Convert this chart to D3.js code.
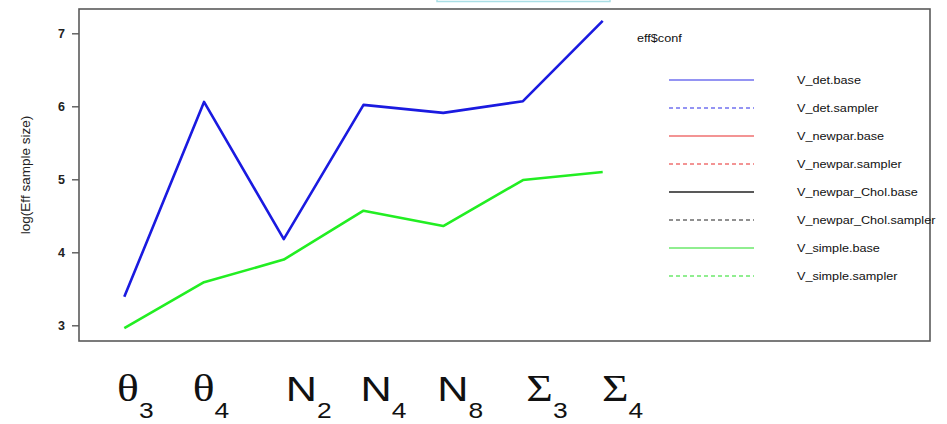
<!DOCTYPE html>
<html>
<head>
<meta charset="utf-8">
<script src="https://cdn.jsdelivr.net/npm/d3@7"></script>
<style>
  html, body { margin: 0; padding: 0; background: #fff; }
  svg { display: block; }
</style>
</head>
<body>
<svg id="chart" width="947" height="424"></svg>
<script>
// Parameters along the x axis (main symbol + subscript)
const paramSymbols = ["θ", "θ", "N", "N", "N", "Σ", "Σ"];
const paramSubs    = ["3", "4", "2", "4", "8", "3", "4"];

// log effective sample size per configuration
const detBase    = [3.39, 6.06, 4.18, 6.02, 5.91, 6.07, 7.17];
const simpleBase = [2.96, 3.59, 3.90, 4.57, 4.36, 4.99, 5.10];

const yTicks = [3, 4, 5, 6, 7];

const legendTitle = "eff$conf";
const legendLabels = [
  "V_det.base", "V_det.sampler",
  "V_newpar.base", "V_newpar.sampler",
  "V_newpar_Chol.base", "V_newpar_Chol.sampler",
  "V_simple.base", "V_simple.sampler"
];

// styling for the legend entries
const legendColors = ["#2a2ae8", "#2a2ae8", "#e82a2a", "#e82a2a", "#222", "#222", "#22dd22", "#22dd22"];
const labelNudge = [11, 7, 25, 20, 17, 24, 20];

const svg = d3.select("#chart");
const sans = "Liberation Sans, Arial, sans-serif";
const serifFont = "Liberation Serif, Times New Roman, serif";

// plotting region frame
const frame = { left: 79, top: 9, right: 930, bottom: 341 };

const x = d3.scaleLinear().domain([0, 6]).range([124.3, 602.7]);
const y = d3.scaleLinear().domain([3, 7]).range([325.3, 33.3]);

// small cyan box at the top edge
svg.append("rect")
  .attr("x", 437).attr("y", -6).attr("width", 173).attr("height", 7.5)
  .attr("fill", "none").attr("stroke", "#a9dee5").attr("stroke-width", 1.5);

// box around the plot
svg.append("rect")
  .attr("x", frame.left).attr("y", frame.top)
  .attr("width", frame.right - frame.left)
  .attr("height", frame.bottom - frame.top)
  .attr("fill", "none").attr("stroke", "#5a5a5a").attr("stroke-width", 1.6);

// y axis
const yAxis = d3.axisLeft(y).tickValues(yTicks).tickSize(7).tickPadding(7).tickFormat(d3.format("d"));
const yg = svg.append("g").attr("transform", `translate(${frame.left},0)`).call(yAxis);
yg.select(".domain").remove();
yg.selectAll(".tick line").attr("stroke", "#5a5a5a").attr("stroke-width", 1.4);
yg.selectAll(".tick text")
  .attr("font-family", sans)
  .attr("font-size", 12.5).attr("font-weight", "bold").attr("fill", "#222");

svg.append("text")
  .attr("transform", "translate(30,175) rotate(-90)")
  .attr("text-anchor", "middle")
  .attr("font-family", sans)
  .attr("font-size", 13.5).attr("fill", "#222")
  .text("log(Eff sample size)");

// series lines
const line = d3.line().x((d, i) => x(i)).y(d => y(d));
svg.append("path").datum(simpleBase).attr("d", line)
  .attr("fill", "none").attr("stroke", "#22ee22").attr("stroke-width", 2.6)
  .attr("stroke-linejoin", "round");
svg.append("path").datum(detBase).attr("d", line)
  .attr("fill", "none").attr("stroke", "#1a1ae0").attr("stroke-width", 2.6)
  .attr("stroke-linejoin", "round");

// legend
svg.append("text")
  .attr("transform", "translate(637,42) scale(1.1,1)")
  .attr("font-family", sans)
  .attr("font-size", 11.5).attr("fill", "#111")
  .text(legendTitle);

const ly = d3.scalePoint().domain(legendLabels).range([80, 276]);
const lg = svg.append("g");
legendLabels.forEach((lab, i) => {
  lg.append("line")
    .attr("x1", 669).attr("x2", 754)
    .attr("y1", ly(lab)).attr("y2", ly(lab))
    .attr("stroke", legendColors[i])
    .attr("stroke-width", i === 4 ? 1.6 : 1.1)
    .attr("stroke-dasharray", i % 2 === 1 ? "4,3" : null);
  lg.append("text")
    .attr("transform", `translate(797,${ly(lab)}) scale(1.1,1)`)
    .attr("dy", "0.35em")
    .attr("font-family", sans)
    .attr("font-size", 11.5).attr("fill", "#111")
    .text(lab);
});

// parameter labels under the plot
paramSymbols.forEach((sym, i) => {
  const serif = sym !== "N";
  const t = svg.append("text")
    .attr("transform", `translate(${x(i) + labelNudge[i]},401) scale(1.2,1)`)
    .attr("text-anchor", "middle")
    .attr("fill", "#111");
  t.append("tspan")
    .attr("font-family", serif ? serifFont : sans)
    .attr("font-size", serif ? 38 : 36)
    .text(sym);
  t.append("tspan")
    .attr("font-family", sans)
    .attr("font-size", 22).attr("dy", 17)
    .text(paramSubs[i]);
});
</script>
</body>
</html>
